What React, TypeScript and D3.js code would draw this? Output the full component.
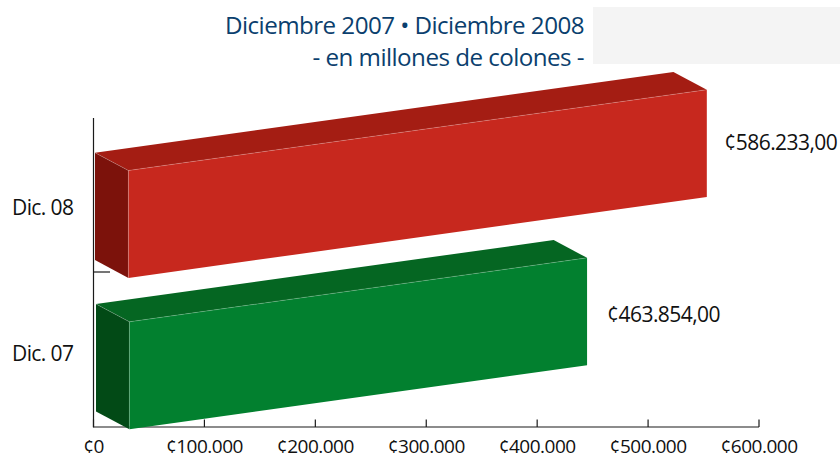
import React from "react";
import * as d3 from "d3";

const categories = ["Dic. 08", "Dic. 07"];
const values = [586233, 463854];
const valueLabels = ["¢586.233,00", "¢463.854,00"];
const axisTicks = [0, 100000, 200000, 300000, 400000, 500000, 600000];
const axisTickLabels = ["¢0", "¢100.000", "¢200.000", "¢300.000", "¢400.000", "¢500.000", "¢600.000"];
const titleLines = ["Diciembre 2007 • Diciembre 2008", "- en millones de colones -"];
const frontColors = ["#c7281e", "#02802f"];
const topColors = ["#a41d13", "#056622"];
const sideColors = ["#7c120b", "#024a16"];

const FONT = "'Open Sans', Lato, sans-serif";

export default function App() {
  const x = d3.scaleLinear().domain([0, 600000]).range([93.5, 759]);
  const len = d3.scaleLinear().domain([0, 600000]).range([0, 592]);
  const backLeft = d3.scaleOrdinal<string, number>().domain(categories).range([95, 96]);
  const backTop = d3.scaleOrdinal<string, number>().domain(categories).range([152.7, 304]);
  const labelDy = [6.5, 10];
  const slope = -0.1397;
  const depthX = 33.4;
  const depthY = 17.8;
  const h = 107.4;
  const line = d3.line();

  return (
    <svg width={840} height={456} style={{ position: "absolute", left: 0, top: 0 }} fontFamily={FONT}>
      <rect x={593} y={7} width={247} height={57} fill="#f4f4f4" />
      {titleLines.map((t, i) => (
        <text key={t} x={584} y={34 + i * 32} textAnchor="end" fontSize={24.2} letterSpacing={-0.55} fill="#0b3f6e">{t}</text>
      ))}
      <g stroke="#1a1a1a" strokeWidth={1.2} fill="none">
        <line x1={93.5} x2={93.5} y1={118} y2={427.5} />
        <line x1={93.5} x2={759} y1={427} y2={427} />
        <line x1={93.5} x2={110} y1={272} y2={272} />
        {axisTicks.map((t) => (
          <line key={t} x1={x(t)} x2={x(t)} y1={419.5} y2={427} />
        ))}
      </g>
      {axisTicks.map((t, i) => (
        <text key={t} x={x(t)} y={453} textAnchor="middle" fontSize={19} letterSpacing={-0.5} fill="#111">{axisTickLabels[i]}</text>
      ))}
      {categories.map((c, i) => {
        const X0 = backLeft(c);
        const Y0 = backTop(c);
        const L = len(values[i]);
        const rise = L * slope;
        const p = (dx: number, dy: number): [number, number] => [X0 + dx, Y0 + dy];
        const bl = p(0, 0);
        const br = p(L, rise);
        const fl = p(depthX, depthY);
        const fr = p(L + depthX, rise + depthY);
        const flb = p(depthX, depthY + h);
        const frb = p(L + depthX, rise + depthY + h);
        const blb = p(0, h);
        const seam = "rgba(255,255,255,0.28)";
        return (
          <g key={c}>
            <path d={line([bl, br, fr, fl])! + "Z"} fill={topColors[i]} />
            <path d={line([bl, fl, flb, blb])! + "Z"} fill={sideColors[i]} />
            <path d={line([fl, fr, frb, flb])! + "Z"} fill={frontColors[i]} />
            <path d={line([bl, fl, fr])!} fill="none" stroke={seam} strokeWidth={0.7} />
            <path d={line([fl, flb])!} fill="none" stroke={seam} strokeWidth={0.7} />
            <text x={fr[0] + (i === 0 ? 17.5 : 20)} y={(fr[1] + frb[1]) / 2 + labelDy[i]} fontSize={21} letterSpacing={-0.55} fill="#111">{valueLabels[i]}</text>
            <text x={12} y={i === 0 ? 215 : 361} fontSize={21} letterSpacing={-0.6} fill="#111">{c}</text>
          </g>
        );
      })}
    </svg>
  );
}
